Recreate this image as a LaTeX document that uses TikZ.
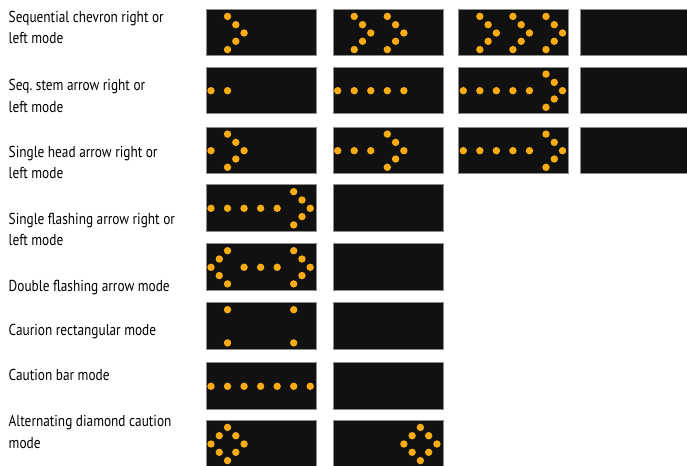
\documentclass[tikz,border=0pt]{standalone}
\usepackage{fontspec}
\setmainfont[FakeStretch=0.84]{PT Sans}
\definecolor{ledc}{HTML}{FBAC12}
\definecolor{panelc}{HTML}{111111}
\definecolor{edgec}{HTML}{8C8C8C}
\tikzset{
  panel/.style={draw=edgec, line width=0.7bp, fill=panelc, anchor=north west, inner sep=0pt, minimum width=110bp, minimum height=46.5bp},
  led/.style={fill=ledc},
  lbl/.style={anchor=base west, inner sep=0pt, align=left, font=\fontsize{15.9}{22}\selectfont, text=black}
}
\newcommand\mkpanel[4]{%
  \node[panel] (#1) at (#2,#3) {};
  \foreach \k/\m in {#4} {\fill[led] ({#2+5+8.27*\k},{#3+24+8.3*\m}) circle[radius=3.7];}
}
\newcommand\mkempty[3]{\node[panel] (#1) at (#2,#3) {};}
\begin{document}
\begin{tikzpicture}[x=1bp,y=-1bp]
\clip (0,0) rectangle (687,466);
\fill[white] (0,0) rectangle (687,466);
% labels (two-line labels anchored at the baseline of their last line)
\node[lbl] (t1) at (8.5,44) {Sequential chevron right or\\left mode};
\node[lbl] (t2) at (8.5,112.5) {Seq.\ stem arrow right or\\left mode};
\node[lbl] (t3) at (8.5,179) {Single head arrow right or\\left mode};
\node[lbl] (t4) at (8.5,246) {Single flashing arrow right or\\left mode};
\node[lbl] (t5) at (8.5,291.7) {Double flashing arrow mode};
\node[lbl] (t6) at (8.5,336) {Caurion rectangular mode};
\node[lbl] (t7) at (8.5,380.7) {Caution bar mode};
\node[lbl] (t8) at (8.5,448.5) {Alternating diamond caution\\mode};
% row 1
\mkpanel{p11}{206}{9}{2/-2,3/-1,4/0,3/1,2/2}
\mkpanel{p12}{332.7}{9}{2/-2,3/-1,4/0,3/1,2/2,6/-2,7/-1,8/0,7/1,6/2}
\mkpanel{p13}{458.3}{9}{2/-2,3/-1,4/0,3/1,2/2,6/-2,7/-1,8/0,7/1,6/2,10/-2,11/-1,12/0,11/1,10/2}
\mkempty{p14}{580}{9}
% row 2
\mkpanel{p21}{206}{66.7}{0/0,2/0}
\mkpanel{p22}{332.7}{66.7}{0/0,2/0,4/0,6/0,8/0}
\mkpanel{p23}{458.3}{66.7}{0/0,2/0,4/0,6/0,8/0,10/-2,11/-1,12/0,11/1,10/2}
\mkempty{p24}{580}{66.7}
% row 3
\mkpanel{p31}{206}{126.7}{0/0,2/-2,3/-1,4/0,3/1,2/2}
\mkpanel{p32}{332.7}{126.7}{0/0,2/0,4/0,6/-2,7/-1,8/0,7/1,6/2}
\mkpanel{p33}{458.3}{126.7}{0/0,2/0,4/0,6/0,8/0,10/-2,11/-1,12/0,11/1,10/2}
\mkempty{p34}{580}{126.7}
% row 4
\mkpanel{p41}{206}{184.3}{0/0,2/0,4/0,6/0,8/0,10/-2,11/-1,12/0,11/1,10/2}
\mkempty{p42}{332.7}{184.3}
% row 5
\mkpanel{p51}{206}{243.3}{2/-2,1/-1,0/0,1/1,2/2,4/0,6/0,8/0,10/-2,11/-1,12/0,11/1,10/2}
\mkempty{p52}{332.7}{243.3}
% row 6
\mkpanel{p61}{206}{302.3}{2/-2,10/-2,2/2,10/2}
\mkempty{p62}{332.7}{302.3}
% row 7
\mkpanel{p71}{206}{362.3}{0/0,2/0,4/0,6/0,8/0,10/0,12/0}
\mkempty{p72}{332.7}{362.3}
% row 8
\mkpanel{p81}{206}{420}{2/-2,1/-1,3/-1,0/0,4/0,1/1,3/1,2/2}
\mkpanel{p82}{332.7}{420}{10/-2,9/-1,11/-1,8/0,12/0,9/1,11/1,10/2}
\end{tikzpicture}
\end{document}
